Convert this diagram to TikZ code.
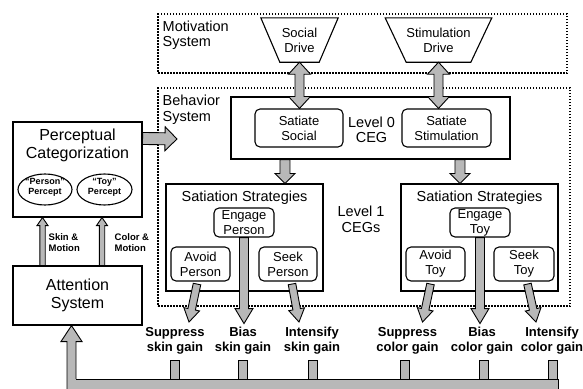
\documentclass[tikz,border=0pt]{standalone}
\usepackage{fontspec}
\setmainfont{Liberation Sans}
\usetikzlibrary{calc,shapes.geometric}
\definecolor{halftone}{gray}{0.72}

\tikzset{
  x=1pt, y=-1pt,
  % block arrow dimensions
  shaftw/.code={\def\arrshaft{#1}},
  headw/.code={\def\arrhead{#1}},
  headl/.code={\def\arrlen{#1}},
  shaftw=5pt, headw=10pt, headl=10pt,
  % single-headed shaded block arrow
  blk/.style={draw=black, line width=0.9pt, fill=halftone, line join=miter,
    to path={
      ($(\tikztostart)!\arrshaft!90:(\tikztotarget)$)
      -- ($($(\tikztotarget)!\arrlen!(\tikztostart)$)!\arrshaft!90:(\tikztotarget)$)
      -- ($($(\tikztotarget)!\arrlen!(\tikztostart)$)!\arrhead!90:(\tikztotarget)$)
      -- (\tikztotarget)
      -- ($($(\tikztotarget)!\arrlen!(\tikztostart)$)!\arrhead!-90:(\tikztotarget)$)
      -- ($($(\tikztotarget)!\arrlen!(\tikztostart)$)!\arrshaft!-90:(\tikztotarget)$)
      -- ($(\tikztostart)!\arrshaft!-90:(\tikztotarget)$)
      -- cycle}},
  % double-headed shaded block arrow
  dblk/.style={draw=black, line width=0.9pt, fill=halftone, line join=miter,
    to path={
      (\tikztostart)
      -- ($($(\tikztostart)!\arrlen!(\tikztotarget)$)!\arrhead!90:(\tikztotarget)$)
      -- ($($(\tikztostart)!\arrlen!(\tikztotarget)$)!\arrshaft!90:(\tikztotarget)$)
      -- ($($(\tikztotarget)!\arrlen!(\tikztostart)$)!\arrshaft!90:(\tikztotarget)$)
      -- ($($(\tikztotarget)!\arrlen!(\tikztostart)$)!\arrhead!90:(\tikztotarget)$)
      -- (\tikztotarget)
      -- ($($(\tikztotarget)!\arrlen!(\tikztostart)$)!\arrhead!-90:(\tikztotarget)$)
      -- ($($(\tikztotarget)!\arrlen!(\tikztostart)$)!\arrshaft!-90:(\tikztotarget)$)
      -- ($($(\tikztostart)!\arrlen!(\tikztotarget)$)!\arrshaft!-90:(\tikztotarget)$)
      -- ($($(\tikztostart)!\arrlen!(\tikztotarget)$)!\arrhead!-90:(\tikztotarget)$)
      -- cycle}},
  dotbox/.style={draw, line width=2.3pt, dash pattern=on 1.4pt off 1.6pt,
    inner sep=0pt, anchor=north west},
  sqbox/.style={draw, line width=1.1pt, inner sep=0pt, align=center},
  rbox/.style={draw, line width=1.1pt, rounded corners=5pt, inner sep=0pt,
    align=center, font=\fontsize{13}{15}\selectfont},
  big/.style={font=\fontsize{16}{18}\selectfont, align=center, inner sep=0pt},
  mid/.style={font=\fontsize{14.5}{15.5}\selectfont, inner sep=0pt},
  small/.style={font=\fontsize{13}{15}\selectfont, align=center, inner sep=0pt},
  lbl/.style={font=\bfseries\fontsize{13}{15}\selectfont, align=center, inner sep=0pt},
  tiny/.style={font=\bfseries\fontsize{9.5}{11}\selectfont, align=left, inner sep=0pt, anchor=west},
  ptext/.style={font=\bfseries\fontsize{9}{10.5}\selectfont, align=center, inner sep=0pt},
  percept/.style={draw, line width=1.1pt, ellipse, inner sep=0pt,
    minimum width=54pt, minimum height=31pt},
  tick/.style={draw, line width=0.9pt, fill=halftone, inner sep=0pt,
    minimum width=9pt, minimum height=19pt},
}

\begin{document}
\begin{tikzpicture}
\useasboundingbox (0,0) rectangle (583,388);
\clip (0,0) rectangle (583,388);

% ---- system frames
\node[dotbox, minimum width=409pt, minimum height=59pt] (mot) at (157,13) {};
\node[mid, align=left, anchor=west] (motl) at (162.5,35.5) {Motivation\\System};
\node[dotbox, minimum width=412pt, minimum height=218pt] (beh) at (157,87) {};
\node[mid, align=left, anchor=west] (behl) at (162.5,109.5) {Behavior\\System};

% ---- drives (inverted trapezoids)
\node[small, minimum width=39pt, minimum height=44pt] (sd) at (299.5,40) {Social\\Drive};
\draw[line width=1.1pt] ($(sd.north west)+(-19,0)$) -- ($(sd.north east)+(19,0)$)
  -- (sd.south east) -- (sd.south west) -- cycle;
\node[small, minimum width=61pt, minimum height=44pt] (std) at (438.5,40) {Stimulation\\Drive};
\draw[line width=1.1pt] ($(std.north west)+(-21,0)$) -- ($(std.north east)+(21,0)$)
  -- (std.south east) -- (std.south west) -- cycle;

% ---- level 0 CEG
\node[sqbox, minimum width=279pt, minimum height=62pt] (lv0) at (370.5,128) {};
\node[rbox, minimum width=88pt, minimum height=38pt] (ssoc) at (299,128) {Satiate\\Social};
\node[rbox, minimum width=89pt, minimum height=38pt] (sstim) at (446.5,128) {Satiate\\Stimulation};
\node[mid, align=center] (lv0l) at (371.5,129.6) {Level 0\\CEG};

% ---- level 1 CEGs
\node[sqbox, minimum width=157pt, minimum height=107pt] (strp) at (244.5,237.5) {};
\node[sqbox, minimum width=157pt, minimum height=107pt] (strt) at (479.5,237.5) {};
\node[mid, anchor=base] (strpl) at (244.5,201.5) {Satiation Strategies};
\node[mid, anchor=base] (strtl) at (479.5,201.5) {Satiation Strategies};
\node[mid, align=center] (lv1l) at (361,219.5) {Level 1\\CEGs};

\node[rbox, minimum width=60pt, minimum height=29pt] (ep) at (244,222.5) {Engage\\Person};
\node[rbox, minimum width=59pt, minimum height=34pt] (ap) at (200.5,264) {Avoid\\Person};
\node[rbox, minimum width=58pt, minimum height=34pt] (sp) at (288,264) {Seek\\Person};
\node[rbox, minimum width=60pt, minimum height=29pt] (et) at (480,222.5) {Engage\\Toy};
\node[rbox, minimum width=59pt, minimum height=34pt] (av) at (435.5,264) {Avoid\\Toy};
\node[rbox, minimum width=60pt, minimum height=34pt] (st) at (524,264) {Seek\\Toy};

% ---- perception and attention
\node[sqbox, minimum width=129pt, minimum height=95pt] (perc) at (77.5,169.5) {};
\node[big] (percl) at (77.5,145) {Perceptual\\Categorization};
\node[percept] (pp) at (45,189.5) {};
\node[percept, minimum width=55pt] (tp) at (104.5,189.5) {};
\node[ptext] (ppl) at (45,187.5) {``Person''\\Percept};
\node[ptext] (tpl) at (104.5,187.5) {``Toy''\\Percept};
\node[sqbox, big, minimum width=129pt, minimum height=59pt] (att) at (77.5,295.5) {Attention\\System};
\node[tiny] (skl) at (48.5,242.5) {Skin \&\\Motion};
\node[tiny] (col) at (114.5,242.5) {Color \&\\Motion};

% ---- gain labels
\node[lbl] (l1) at (175,341) {Suppress\\skin gain};
\node[lbl] (l2) at (243,341) {Bias\\skin gain};
\node[lbl] (l3) at (312,341) {Intensify\\skin gain};
\node[lbl] (l4) at (407.5,341) {Suppress\\color gain};
\node[lbl] (l5) at (482,341) {Bias\\color gain};
\node[lbl] (l6) at (552,341) {Intensify\\color gain};

% ---- connectors
\path[dblk, shaftw=4.5pt, headw=11pt, headl=12pt] (sd.south) to (sd.south |- ssoc.north);
\path[dblk, shaftw=4.5pt, headw=11pt, headl=12pt] (std.south) to (std.south |- sstim.north);

\coordinate (a0s) at ($(lv0.south west)+(54.5,0)$);
\coordinate (a1s) at ($(lv0.south west)+(229.5,0)$);
\path[blk] (a0s) to (a0s |- strp.north);
\path[blk] (a1s) to (a1s |- strt.north);

\coordinate (pin) at ($(perc.north east)+(0,17)$);
\coordinate (pout) at (177,139);
\path[blk, shaftw=6pt, headw=12pt, headl=12pt] (pin) to (pout);

\path[blk, shaftw=2.7pt, headw=5.5pt, headl=8pt] (att.north -| 42.5,0) to (perc.south -| 42.5,0);
\path[blk, shaftw=2.7pt, headw=5.5pt, headl=8pt] (att.north -| 102,0) to (perc.south -| 102,0);

% gain arrows
\coordinate (apo) at ($(ap.south)+(-3.5,2.5)$);
\coordinate (apt) at ($(l1.center)+(14,-19)$);
\path[blk, shaftw=3.8pt, headw=8pt, headl=13pt] (apo) to (apt);
\coordinate (ept) at ($(ep.south)+(0,86)$);
\path[blk, shaftw=4.5pt, headw=9pt, headl=15pt] (ep.south) to (ept);
\coordinate (spo) at ($(sp.south)+(4,2.5)$);
\coordinate (spt) at ($(l3.center)+(-13,-19)$);
\path[blk, shaftw=3.8pt, headw=8pt, headl=13pt] (spo) to (spt);

\coordinate (avo) at ($(av.south)+(-5,2.5)$);
\coordinate (avt) at ($(l4.center)+(15,-19)$);
\path[blk, shaftw=3.8pt, headw=8pt, headl=13pt] (avo) to (avt);
\coordinate (ett) at ($(et.south)+(0,86)$);
\path[blk, shaftw=4.5pt, headw=9pt, headl=15pt] (et.south) to (ett);
\coordinate (sto) at ($(st.south)+(3.5,2.5)$);
\coordinate (stt) at ($(l6.center)+(-16,-19)$);
\path[blk, shaftw=3.8pt, headw=8pt, headl=13pt] (sto) to (stt);

% ---- feedback bus into the attention system
\coordinate (busin) at (71.5,400);
\path[blk, shaftw=4.5pt, headw=10.5pt, headl=16pt] (busin) to (att.south -| busin);
\fill[halftone] (67.5,379.4) rectangle (558,400);
\draw[line width=0.9pt] (76,379) -- (558,379) -- (558,400);
\foreach \tx in {175, 243, 312.5, 405, 484, 553}
  \node[tick] at (\tx,369.5) {};
\end{tikzpicture}
\end{document}
